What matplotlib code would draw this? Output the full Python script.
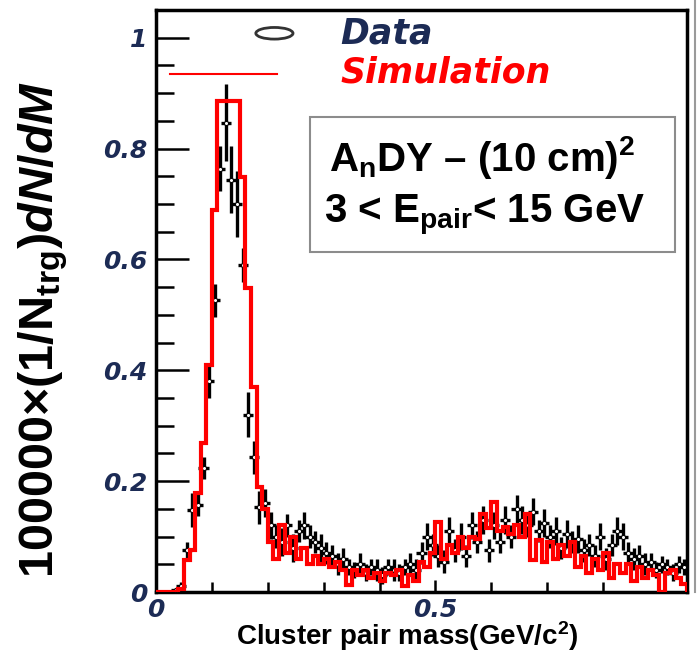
import matplotlib
matplotlib.use("Agg")
import matplotlib.pyplot as plt
import numpy as np
from matplotlib.patches import Rectangle, Ellipse
from matplotlib.lines import Line2D
from matplotlib.ticker import MultipleLocator

plt.rcParams['mathtext.fontset'] = 'custom'
plt.rcParams['mathtext.rm'] = 'Liberation Sans:bold'
plt.rcParams['mathtext.bf'] = 'Liberation Sans:bold'
plt.rcParams['mathtext.it'] = 'Liberation Sans:bold:italic'

# simulation histogram, 0.01 GeV bins from 0 to 0.95
bin_edges = np.linspace(0, 0.95, 96)
sim_counts = [
    0, 0, 0, 0, 0.005, 0.058, 0.075, 0.178, 0.268, 0.41,
    0.69, 0.885, 0.885, 0.885, 0.885, 0.748, 0.548, 0.37, 0.19, 0.15,
    0.09, 0.06, 0.12, 0.07, 0.10, 0.06, 0.08, 0.05, 0.065, 0.05,
    0.06, 0.045, 0.055, 0.04, 0.012, 0.04, 0.03, 0.04, 0.025, 0.035,
    0.02, 0.035, 0.03, 0.04, 0.01, 0.03, 0.02, 0.055, 0.045, 0.07,
    0.126, 0.06, 0.085, 0.07, 0.10, 0.08, 0.10, 0.095, 0.14, 0.115,
    0.162, 0.11, 0.117, 0.105, 0.12, 0.10, 0.14, 0.058, 0.094, 0.055,
    0.09, 0.06, 0.085, 0.065, 0.09, 0.045, 0.065, 0.035, 0.06, 0.04,
    0.07, 0.025, 0.05, 0.035, 0.05, 0.02, 0.045, 0.025, 0.04, 0.03,
    0.0, 0.035, 0.04, 0.025, 0.015,
]

# data points, filled from bin 3 onwards
data_first_bin = 3
data_y = [
    0.003, 0.01, 0.076, 0.148, 0.157, 0.223, 0.38,
    0.526, 0.764, 0.847, 0.744, 0.70, 0.59, 0.32, 0.243, 0.153, 0.16,
    0.12, 0.10, 0.09, 0.12, 0.08, 0.11, 0.12, 0.10, 0.09, 0.08,
    0.07, 0.065, 0.05, 0.06, 0.045, 0.04, 0.05, 0.035, 0.045, 0.04,
    0.03, 0.045, 0.04, 0.035, 0.045, 0.05, 0.04, 0.07, 0.10, 0.085,
    0.065, 0.055, 0.11, 0.075, 0.10, 0.065, 0.12, 0.09, 0.13, 0.075,
    0.12, 0.09, 0.13, 0.10, 0.15, 0.13, 0.12, 0.145, 0.11, 0.125,
    0.10, 0.11, 0.08, 0.105, 0.09, 0.095, 0.075, 0.085, 0.065, 0.10,
    0.06, 0.085, 0.11, 0.10, 0.07, 0.06, 0.065, 0.05, 0.055, 0.04,
    0.05, 0.045, 0.035, 0.05, 0.045,
]
data_err = [
    0.004, 0.008, 0.015, 0.03, 0.02, 0.02, 0.03,
    0.03, 0.04, 0.07, 0.06, 0.06, 0.03, 0.04, 0.03, 0.03, 0.025,
    0.025, 0.02, 0.025, 0.02, 0.025, 0.02, 0.025, 0.02, 0.02, 0.025,
    0.02, 0.02, 0.02, 0.02, 0.015, 0.015, 0.02, 0.015, 0.015, 0.02,
    0.015, 0.015, 0.02, 0.015, 0.015, 0.02, 0.02, 0.02, 0.025, 0.02,
    0.02, 0.02, 0.025, 0.02, 0.025, 0.02, 0.025, 0.02, 0.025, 0.02,
    0.025, 0.02, 0.025, 0.02, 0.025, 0.025, 0.02, 0.025, 0.02, 0.025,
    0.02, 0.025, 0.02, 0.025, 0.02, 0.025, 0.02, 0.02, 0.02, 0.025,
    0.02, 0.02, 0.025, 0.025, 0.02, 0.02, 0.02, 0.02, 0.015, 0.015,
    0.015, 0.015, 0.015, 0.015, 0.015,
]
bin_centres = 0.5 * (bin_edges[:-1] + bin_edges[1:])
data_x = bin_centres[data_first_bin:data_first_bin + len(data_y)]

label_col = '#1c2b55'
bold_font = 'Liberation Sans'

fig = plt.figure(figsize=(6.99, 6.57), dpi=100)
ax = fig.add_axes([156 / 699, 65 / 657, 531 / 699, 582 / 657])

ax.errorbar(data_x, data_y, yerr=data_err, xerr=0.009, fmt='o', ms=3,
            mfc='white', mec='black', mew=0.8, ecolor='black', elinewidth=2.4,
            capsize=0, zorder=3)
ax.stairs(sim_counts, bin_edges, color='red', lw=3, zorder=4)

ax.set_xlim(0, 0.95)
ax.set_ylim(0, 1.05)

ax.xaxis.set_major_locator(MultipleLocator(0.5))
ax.xaxis.set_minor_locator(MultipleLocator(0.1))
ax.yaxis.set_major_locator(MultipleLocator(0.2))
ax.yaxis.set_minor_locator(MultipleLocator(0.05))
ax.yaxis.set_major_formatter(lambda v, p: '0' if v == 0 else ('1' if abs(v - 1) < 1e-9 else f'{v:.1f}'))
ax.xaxis.set_major_formatter(lambda v, p: '0' if v == 0 else f'{v:.1f}')

ax.tick_params(axis='y', which='major', direction='in', length=24, width=1.8, pad=6)
ax.tick_params(axis='y', which='minor', direction='in', length=13, width=1.8)
ax.tick_params(axis='x', which='major', direction='in', length=9, width=1.8, pad=4)
ax.tick_params(axis='x', which='minor', direction='in', length=7, width=1.8)
for lab in ax.get_xticklabels() + ax.get_yticklabels():
    lab.set_fontsize(18)
    lab.set_fontweight('bold')
    lab.set_fontstyle('italic')
    lab.set_color(label_col)
for sp in ax.spines.values():
    sp.set_linewidth(2.5)

# legend
ax.add_patch(Ellipse((0.223, 0.96), 0.07, 0.02, transform=ax.transAxes,
                     fill=False, ec='#333333', lw=2, clip_on=False))
ax.text(0.347, 0.96, 'Data', transform=ax.transAxes, fontsize=25, fontweight='bold',
        fontstyle='italic', color=label_col, va='center', ha='left')
ax.plot([0.026, 0.228], [0.89, 0.89], transform=ax.transAxes, color='red', lw=1.5)
ax.text(0.347, 0.892, 'Simulation', transform=ax.transAxes, fontsize=25, fontweight='bold',
        fontstyle='italic', color='red', va='center', ha='left')

# info box
ax.add_patch(Rectangle((0.29, 0.584), 0.687, 0.232, transform=ax.transAxes,
                       fc='white', ec='#8c8c8c', lw=1.5, zorder=5))
ax.text(0.326, 0.746, r'A$_{\mathrm{n}}$DY – (10 cm)$^{2}$', transform=ax.transAxes,
        family=bold_font, fontweight='bold', fontsize=29, va='center', ha='left', zorder=6)
ax.text(0.316, 0.648, r'3 < E$_{\mathrm{pair}}$< 15 GeV', transform=ax.transAxes,
        family=bold_font, fontweight='bold', fontsize=29, va='center', ha='left', zorder=6)

fig.text(0.062, 0.498, r'100000×(1/N$_{\mathrm{trg}}$)$\mathit{dN/dM}$', rotation=90,
         family=bold_font, fontweight='bold', fontsize=35, ha='center', va='center')
fig.text(0.582, 0.006, r'Cluster pair mass(GeV/c$^{2}$)', family=bold_font,
         fontweight='bold', fontsize=20, ha='center', va='bottom')

fig.add_artist(Line2D([695 / 699, 695 / 699], [65 / 657, 1.0], color='#9a9a9a', lw=1.5))

fig.savefig('out.png', dpi=100)
